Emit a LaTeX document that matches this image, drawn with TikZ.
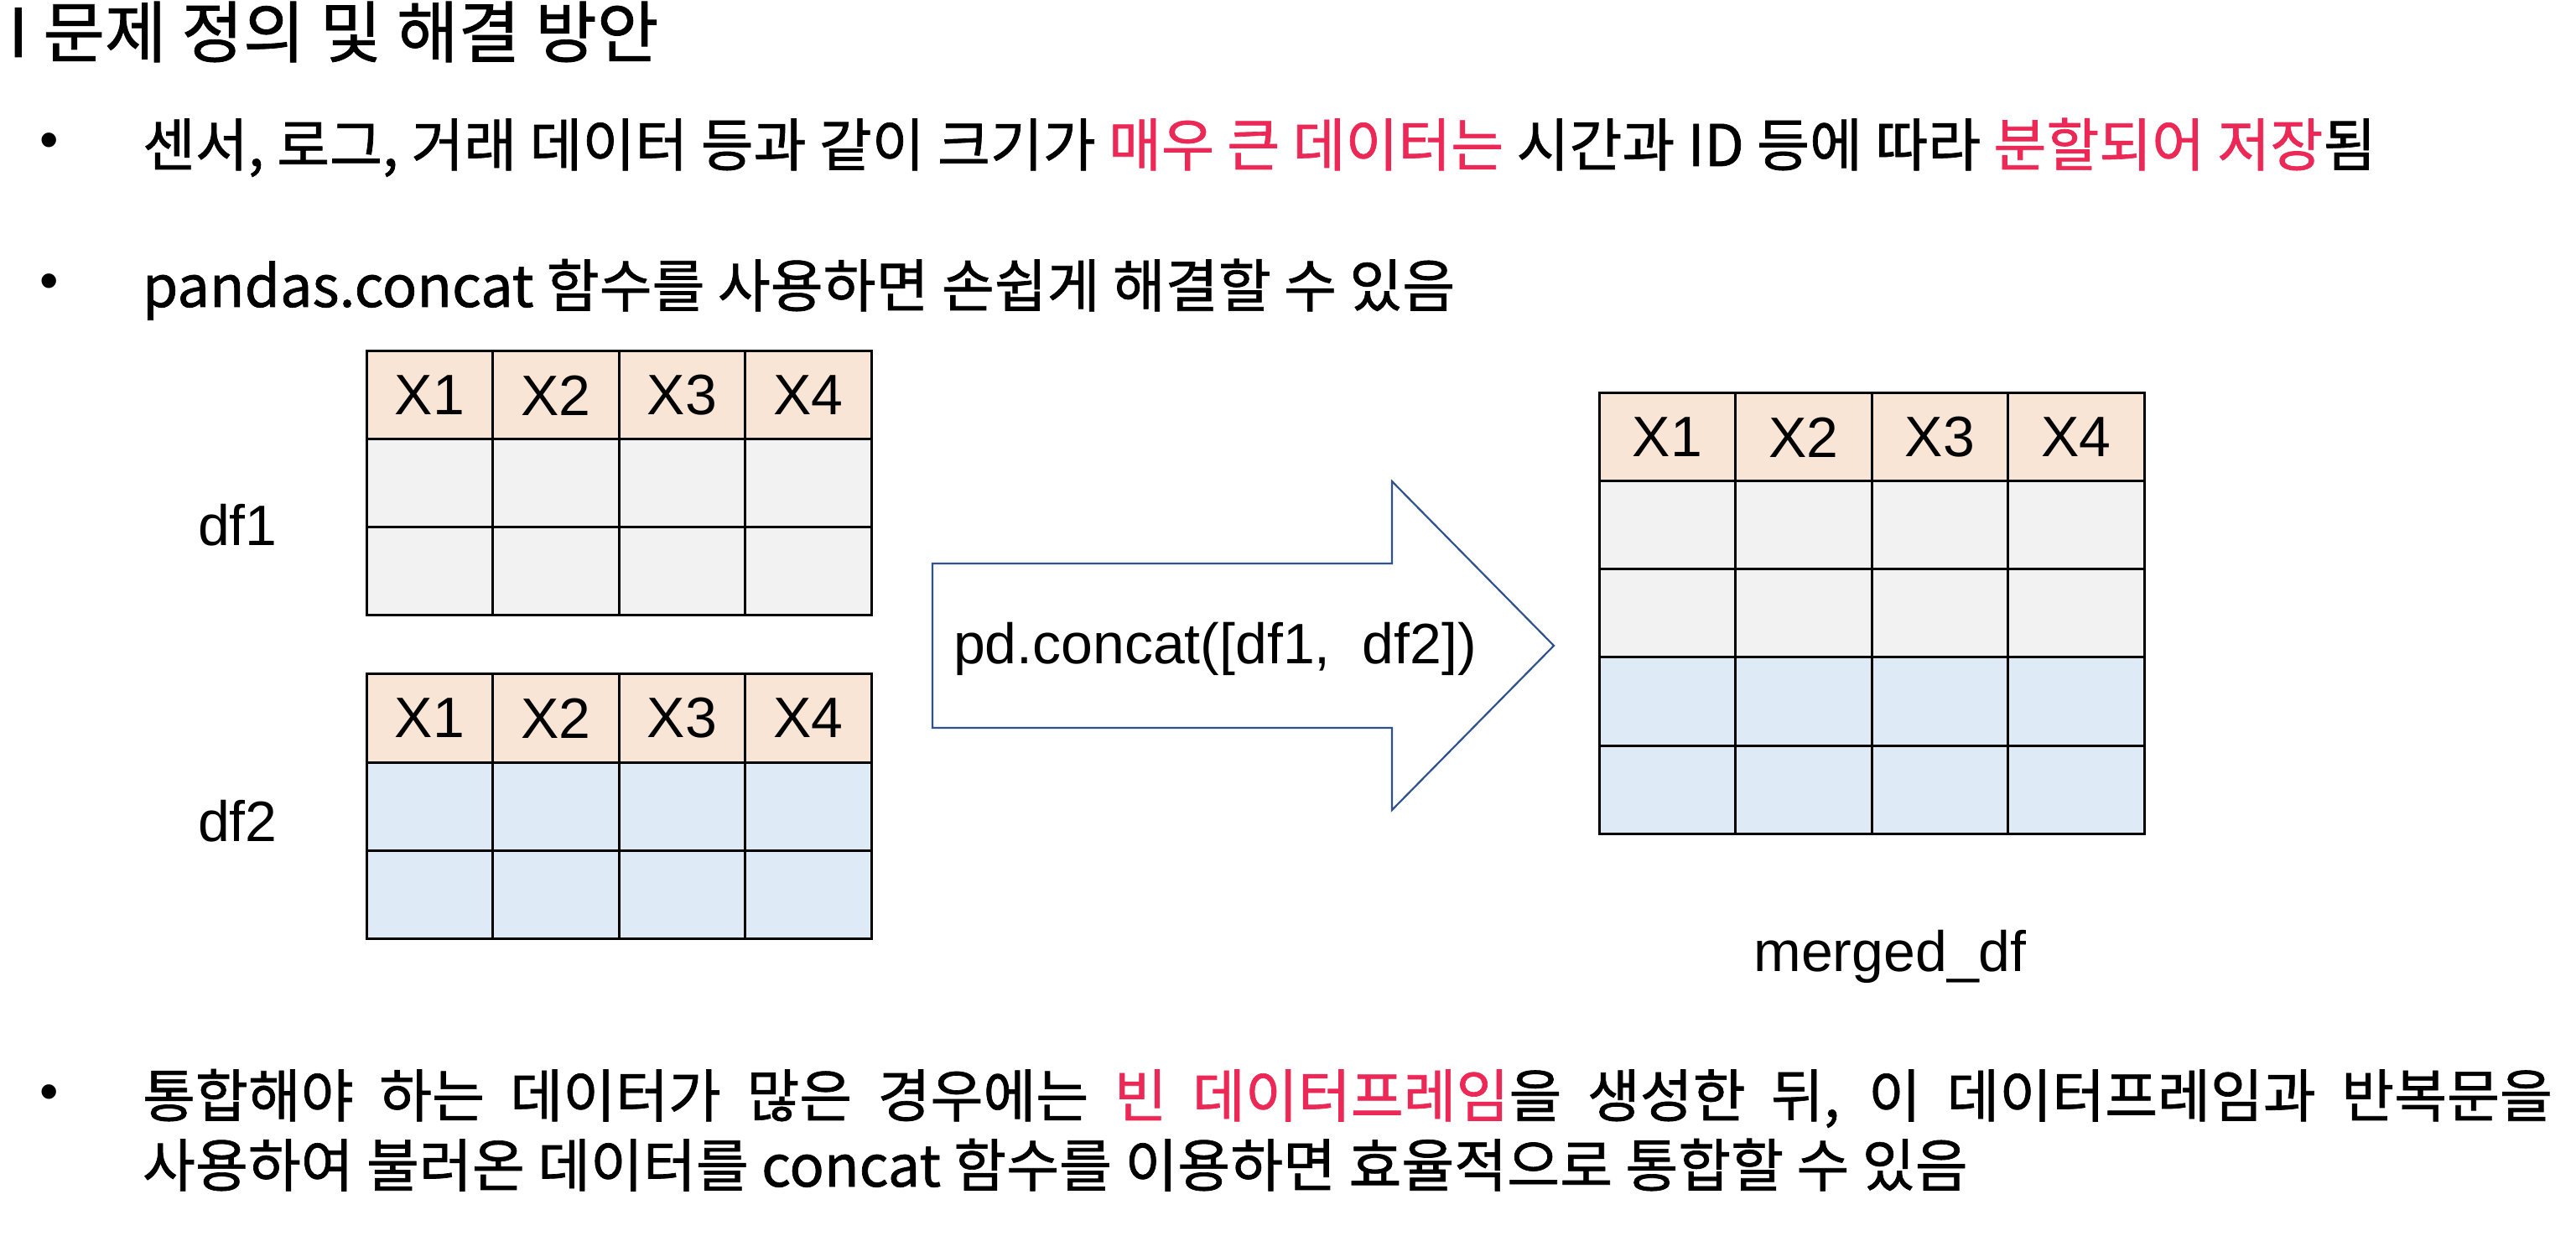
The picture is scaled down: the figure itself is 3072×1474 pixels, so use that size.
\documentclass[tikz,border=0pt]{standalone}
\usepackage{fontspec}
\setmainfont{Liberation Sans}
\newfontfamily\kr[FakeBold=1]{Noto Sans CJK KR}
\definecolor{hl}{RGB}{236,40,86}
\definecolor{hdrfill}{RGB}{248,229,214}
\definecolor{grayfill}{RGB}{242,242,242}
\definecolor{bluefill}{RGB}{222,234,246}
\definecolor{arrowblue}{RGB}{47,82,143}
\begin{document}
\begin{tikzpicture}[x=0.25pt,y=-0.25pt,
  txt/.style={inner sep=0pt, outer sep=0pt},
  body/.style={txt, anchor=base west, font=\kr\fontsize{17.1}{20}\selectfont},
  titletext/.style={txt, anchor=base west, font=\kr\fontsize{20}{24}\selectfont},
  bul/.style={txt, font=\fontsize{16}{19}\selectfont},
  cell/.style={draw=black, line width=0.75pt, inner sep=0pt, minimum height=26.25pt, font=\fontsize{17}{20}\selectfont},
  hdr/.style={cell, fill=hdrfill},
  grayc/.style={cell, fill=grayfill},
  bluec/.style={cell, fill=bluefill},
  smallw/.style={minimum width=37.625pt},
  bigw/.style={minimum width=40.625pt},
  lbl/.style={txt, font=\fontsize{17}{20}\selectfont},
  arrowshape/.style={draw=arrowblue, line width=0.55pt, fill=white, line join=miter},
]
\useasboundingbox[fill=white] (0,0) rectangle (3072,1474);

% title
\node[titletext] (title) at (10,68) {I 문제 정의 및 해결 방안};

% bullet 1
\node[bul] (b1) at (59,174) {•};
\node[body] (l1) at (170,198) {센서, 로그, 거래 데이터 등과 같이 크기가 {\color{hl}매우 큰 데이터는} 시간과 ID 등에 따라 {\color{hl}분할되어 저장}됨};

% bullet 2
\node[bul] (b2) at (59,342) {•};
\node[body] (l2) at (170,366) {pandas.concat 함수를 사용하면 손쉽게 해결할 수 있음};

% bullet 3
\node[bul] (b3) at (59,1309) {•};
\node[body] (l3) at (170,1332) {\makebox[718.5pt][s]{통합해야 하는 데이터가 많은 경우에는 {\color{hl}빈 데이터프레임}을 생성한 뒤, 이 데이터프레임과 반복문을}};
\node[body] (l4) at (170,1415) {사용하여 불러온 데이터를 concat 함수를 이용하면 효율적으로 통합할 수 있음};

% df1 table
\foreach \n/\c in {1/X1,2/X2,3/X3,4/X4}{
  \node[hdr,smallw] (a-h\n) at ({437+150.5*(\n-0.5)},471.5) {\c};
  \node[grayc,smallw] (a-r1-\n) at ({437+150.5*(\n-0.5)},576.5) {};
  \node[grayc,smallw] (a-r2-\n) at ({437+150.5*(\n-0.5)},681.5) {};
}
% df2 table
\foreach \n/\c in {1/X1,2/X2,3/X3,4/X4}{
  \node[hdr,smallw] (b-h\n) at ({437+150.5*(\n-0.5)},856.5) {\c};
  \node[bluec,smallw] (b-r1-\n) at ({437+150.5*(\n-0.5)},961.5) {};
  \node[bluec,smallw] (b-r2-\n) at ({437+150.5*(\n-0.5)},1066.5) {};
}
% merged table
\foreach \n/\c in {1/X1,2/X2,3/X3,4/X4}{
  \node[hdr,bigw] (m-h\n) at ({1907+162.5*(\n-0.5)},521.5) {\c};
  \node[grayc,bigw] (m-r1-\n) at ({1907+162.5*(\n-0.5)},626.5) {};
  \node[grayc,bigw] (m-r2-\n) at ({1907+162.5*(\n-0.5)},731.5) {};
  \node[bluec,bigw] (m-r3-\n) at ({1907+162.5*(\n-0.5)},836.5) {};
  \node[bluec,bigw] (m-r4-\n) at ({1907+162.5*(\n-0.5)},941.5) {};
}

% labels
\node[lbl, anchor=base west] (df1) at (236,651) {df1};
\node[lbl, anchor=base west] (df2) at (236,1004) {df2};
\node[lbl, anchor=base] (mdf) at (2254,1158) {merged\_df};

% big arrow
\draw[arrowshape] (1112,672) -- (1660,672) -- (1660,574) -- (1853,770) -- (1660,966) -- (1660,868) -- (1112,868) -- cycle;
\node[lbl, anchor=west] (op) at (1137,774) {pd.concat([df1,\ \ df2])};
\end{tikzpicture}
\end{document}
